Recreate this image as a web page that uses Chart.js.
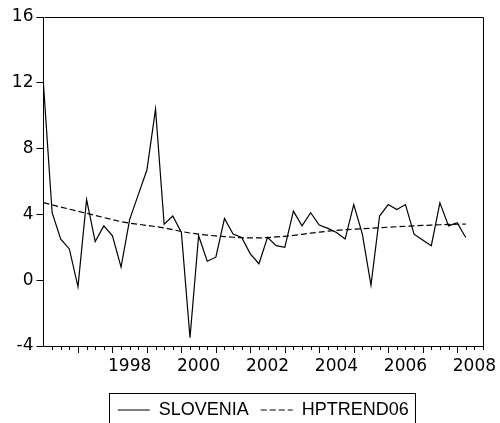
<!DOCTYPE html>
<html>
<head>
<meta charset="utf-8">
<style>
html,body{margin:0;padding:0;background:#fff;overflow:hidden;width:500px;height:423px}
canvas{display:block}
</style>
<script src="https://cdn.jsdelivr.net/npm/chart.js@4/dist/chart.umd.min.js"></script>
</head>
<body>
<canvas id="c" width="500" height="432"></canvas>
<script>
const quarters = [
  '1996Q1','1996Q2','1996Q3','1996Q4','1997Q1','1997Q2','1997Q3','1997Q4',
  '1998Q1','1998Q2','1998Q3','1998Q4','1999Q1','1999Q2','1999Q3','1999Q4',
  '2000Q1','2000Q2','2000Q3','2000Q4','2001Q1','2001Q2','2001Q3','2001Q4',
  '2002Q1','2002Q2','2002Q3','2002Q4','2003Q1','2003Q2','2003Q3','2003Q4',
  '2004Q1','2004Q2','2004Q3','2004Q4','2005Q1','2005Q2','2005Q3','2005Q4',
  '2006Q1','2006Q2','2006Q3','2006Q4','2007Q1','2007Q2','2007Q3','2007Q4',
  '2008Q1','2008Q2','2008Q3','2008Q4'
];
const slovenia = [
  11.9, 4.1, 2.5, 1.9, -0.4, 4.9, 2.35, 3.3, 2.7, 0.8,
  3.7, 5.2, 6.7, 10.4, 3.4, 3.9, 2.9, -3.5, 2.7, 1.15,
  1.4, 3.75, 2.8, 2.6, 1.6, 1.0, 2.6, 2.1, 2.0, 4.2,
  3.3, 4.1, 3.35, 3.15, 2.9, 2.5, 4.6, 2.8, -0.3, 3.9,
  4.6, 4.3, 4.6, 2.8, 2.45, 2.1, 4.7, 3.3, 3.5, 2.6
];
const hptrend06 = [
  4.72, 4.58, 4.45, 4.32, 4.19, 4.07, 3.94, 3.81, 3.68, 3.56,
  3.47, 3.40, 3.33, 3.26, 3.18, 3.07, 2.96, 2.87, 2.80, 2.74,
  2.69, 2.65, 2.61, 2.58, 2.57, 2.57, 2.59, 2.63, 2.67, 2.72,
  2.79, 2.86, 2.92, 2.98, 3.03, 3.07, 3.10, 3.13, 3.16, 3.19,
  3.22, 3.25, 3.28, 3.30, 3.33, 3.35, 3.37, 3.39, 3.40, 3.41
];
const yearLabels = ['1998','2000','2002','2004','2006','2008'];
const yTicks = [-4, 0, 4, 8, 12, 16];

const AXIS_FONT = {family: '"DejaVu Sans", sans-serif', size: 17};
const LEGEND_FONT = {family: '"Liberation Sans", Arial, sans-serif', size: 18};

const framePlugin = {
  id: 'frame',
  afterLayout(chart) {
    const lg = chart.legend, ca = chart.chartArea;
    if (lg) { lg.left = ca.left; lg.right = ca.right; }
  },
  afterDraw(chart) {
    const {ctx, chartArea: ca, scales} = chart;
    ctx.save();
    ctx.strokeStyle = '#000';
    ctx.lineWidth = 1;
    ctx.setLineDash([]);
    // top and right frame lines
    ctx.beginPath();
    ctx.moveTo(Math.round(ca.left) + 0.5, Math.round(ca.top) + 0.5);
    ctx.lineTo(Math.round(ca.right) + 0.5, Math.round(ca.top) + 0.5);
    ctx.lineTo(Math.round(ca.right) + 0.5, Math.round(ca.bottom) + 0.5);
    ctx.stroke();
    // quarter tick marks (longer at Q1)
    const x = scales.x;
    const base = Math.round(x.top);
    ctx.beginPath();
    quarters.forEach((q, i) => {
      if (i === 0) return;
      const px = Math.round(x.getPixelForValue(i)) + 0.5;
      ctx.moveTo(px, base);
      ctx.lineTo(px, base + (q.endsWith('Q1') ? 7 : 4));
    });
    ctx.stroke();
    // legend border
    const lg = chart.legend;
    if (lg && lg.legendHitBoxes && lg.legendHitBoxes.length) {
      const hb = lg.legendHitBoxes;
      const first = hb[0], last = hb[hb.length - 1];
      const l = Math.round(first.left - 9) + 0.5;
      const r = Math.round(last.left + last.width + 6) + 0.5;
      const cy = first.top + first.height / 2;
      const t = Math.round(cy - 17) + 0.5;
      ctx.strokeRect(l, t, r - l, 40);
    }
    ctx.restore();
  }
};

new Chart(document.getElementById('c'), {
  type: 'line',
  data: {
    labels: quarters,
    datasets: [
      {
        label: 'SLOVENIA',
        data: slovenia,
        borderColor: '#000',
        backgroundColor: '#000',
        borderWidth: 1.2,
        pointRadius: 0,
        tension: 0,
        fill: false
      },
      {
        label: 'HPTREND06',
        data: hptrend06,
        borderColor: '#000',
        backgroundColor: '#000',
        borderWidth: 1.2,
        borderDash: [6, 3],
        pointRadius: 0,
        tension: 0,
        fill: false
      }
    ]
  },
  options: {
    responsive: false,
    animation: false,
    events: [],
    layout: {padding: {top: 17, right: 17, left: 0, bottom: 3}},
    plugins: {
      tooltip: {enabled: false},
      legend: {
        display: true,
        position: 'bottom',
        labels: {
          color: '#000',
          font: LEGEND_FONT,
          usePointStyle: true,
          pointStyle: 'line',
          pointStyleWidth: 32,
          padding: 12,
          generateLabels(chart) {
            const items = Chart.defaults.plugins.legend.labels.generateLabels(chart);
            return items.map(it => {
              const ds = chart.data.datasets[it.datasetIndex];
              it.lineDash = ds.borderDash || [];
              it.lineWidth = 1;
              it.strokeStyle = '#000';
              it.pointStyle = 'line';
              return it;
            });
          }
        }
      }
    },
    scales: {
      x: {
        type: 'category',
        offset: false,
        grid: {display: false, drawTicks: false, tickLength: 0},
        border: {display: true, color: '#000', width: 1},
        ticks: {
          autoSkip: false,
          maxRotation: 0,
          minRotation: 0,
          padding: 10,
          color: '#000',
          font: AXIS_FONT,
          callback: function(value, index) {
            const q = quarters[index];
            const yr = q.slice(0, 4);
            return (q.endsWith('Q3') && yearLabels.includes(yr)) ? yr : '';
          }
        },
        afterFit(scale) { scale.height = 43; }
      },
      y: {
        min: yTicks[0],
        max: yTicks[yTicks.length - 1],
        grid: {display: true, drawOnChartArea: false, drawTicks: true, tickLength: 7, color: '#000', tickColor: '#000'},
        border: {display: true, color: '#000', width: 1},
        afterBuildTicks(scale) { scale.ticks = yTicks.map(v => ({value: v})); },
        ticks: {
          padding: 3,
          color: '#000',
          font: AXIS_FONT,
          callback: v => String(v)
        },
        afterFit(scale) { scale.width = 43.5; }
      }
    }
  },
  plugins: [framePlugin]
});
</script>
</body>
</html>
